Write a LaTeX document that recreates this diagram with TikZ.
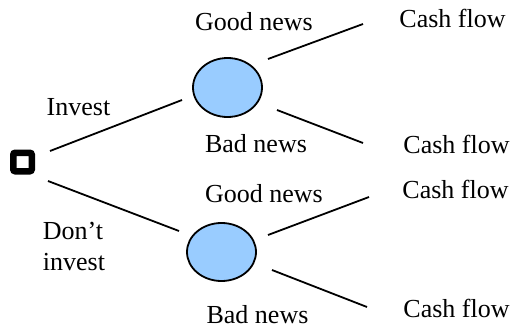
\documentclass[tikz,border=0pt]{standalone}
\usepackage{fontspec}
\setmainfont{Liberation Serif}
\usetikzlibrary{shapes.geometric}
\begin{document}
\begin{tikzpicture}[x=1pt,y=-1pt,
  lbl/.style={inner sep=0pt,anchor=base,font=\fontsize{26}{31}\selectfont},
  chance/.style={draw=black,line width=1.8pt,fill=chancefill,ellipse,minimum width=69pt,minimum height=59pt,inner sep=0pt},
  decision/.style={draw=black,line width=6.5pt,rounded corners=2pt,minimum size=18.5pt,inner sep=0pt},
  branch/.style={line width=1.8pt}]
\definecolor{chancefill}{HTML}{99CCFF}
\useasboundingbox (0,0) rectangle (514,329);
% nodes
\node[decision] (sq) at (22.5,162) {};
\node[chance] (e1) at (227.5,87.5) {};
\node[chance,minimum height=58pt] (e2) at (221.5,252) {};
% connector ends
\coordinate (s1) at (50,151);
\coordinate (s2) at (48,181);
\coordinate (e1in) at (182,100);
\coordinate (e2in) at (179,231);
\coordinate (e1a) at (268,59);
\coordinate (e1b) at (277,110);
\coordinate (e2a) at (268,235);
\coordinate (e2b) at (272,270);
\coordinate (c1) at (363,24);
\coordinate (c2) at (363,143);
\coordinate (c3) at (369,197);
\coordinate (c4) at (367,307);
% connectors
\draw[branch] (s1) -- (e1in);
\draw[branch] (s2) -- (e2in);
\draw[branch] (e1a) -- (c1);
\draw[branch] (e1b) -- (c2);
\draw[branch] (e2a) -- (c3);
\draw[branch] (e2b) -- (c4);
% labels
\node[lbl] (good1) at (254,31) {Good news};
\node[lbl] (cash1) at (452.5,28) {Cash flow};
\node[lbl] (inv) at (78.5,115) {Invest};
\node[lbl] (dont) at (73,239) {Don’t};
\node[lbl] (dont2) at (74,270) {invest};
\node[lbl] (bad1) at (256,152) {Bad news};
\node[lbl] (good2) at (264,202) {Good news};
\node[lbl] (bad2) at (257.5,323) {Bad news};
\node[lbl] (cash2) at (456.5,153) {Cash flow};
\node[lbl] (cash3) at (455.5,198) {Cash flow};
\node[lbl] (cash4) at (456.5,317) {Cash flow};
\end{tikzpicture}
\end{document}
